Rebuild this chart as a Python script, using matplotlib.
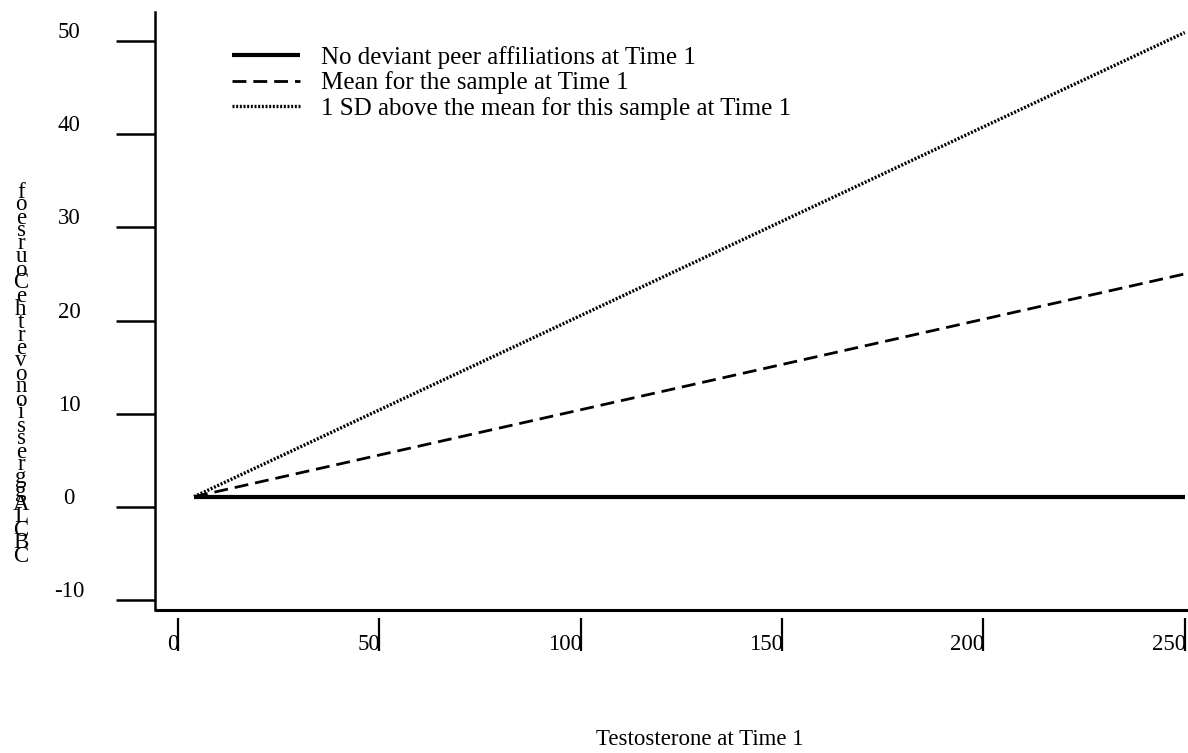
"""Testosterone x deviant peer affiliation interaction on CBCL aggression."""

import matplotlib
matplotlib.use('Agg')
import matplotlib.pyplot as plt
import matplotlib.transforms as mtransforms

# values
TESTOSTERONE = [4, 250]
NO_DEVIANT_PEERS = [1.1, 1.1]
MEAN_DEVIANT_PEERS = [1.1, 25.0]
SD_ABOVE_MEAN = [1.1, 50.9]

SERIES_LABELS = [
    'No deviant peer affiliations at Time 1',
    'Mean for the sample at Time 1',
    '1 SD above the mean for this sample at Time 1',
]
X_TICKS = [0, 50, 100, 150, 200, 250]
Y_TICKS = [-10, 0, 10, 20, 30, 40, 50]
X_LABEL = 'Testosterone at Time 1'
Y_LABEL = 'CBCL Aggression over the Course of'

W, H, DPI = 1188, 753, 100


def px(x, y):
    """Figure pixel coords (from top-left) -> figure fraction."""
    return x / W, 1 - y / H


def main():
    plt.rcParams['font.family'] = ['Liberation Serif', 'DejaVu Serif']
    fig = plt.figure(figsize=(W / DPI, H / DPI), dpi=DPI)

    left, bottom = px(155, 609.5)
    _, top = px(0, 12)
    ax = fig.add_axes([left, bottom, 1.0 - left, top - bottom])

    ax.plot(TESTOSTERONE, NO_DEVIANT_PEERS, color='black', lw=3.0,
            solid_capstyle='butt', label=SERIES_LABELS[0])
    ax.plot(TESTOSTERONE, MEAN_DEVIANT_PEERS, color='black', lw=2.0,
            ls=(0, (5, 2.5)), label=SERIES_LABELS[1])
    ax.plot(TESTOSTERONE, SD_ABOVE_MEAN, color='black', lw=2.4,
            ls=(0, (0.6, 0.5)), label=SERIES_LABELS[2])

    ax.set_xlim(-5.7, 250.8)
    ax.set_ylim(-11, 53.1)

    for side in ('top', 'right'):
        ax.spines[side].set_visible(False)
    ax.spines['left'].set_linewidth(1.8)
    # x ticks hang below the axis line with a gap, so move the (hidden) spine down
    ax.spines['bottom'].set_position(('outward', 6))
    ax.spines['bottom'].set_visible(False)
    ax.plot([0, 1], [0, 0], transform=ax.transAxes, color='black', lw=2.2,
            clip_on=False, solid_capstyle='butt')

    ax.set_xticks(X_TICKS)
    ax.set_yticks(Y_TICKS)
    ax.set_yticklabels([f'{v:g}' for v in Y_TICKS])
    ax.tick_params(axis='y', direction='out', length=28, width=1.8, pad=34,
                   labelsize=16.5)
    ax.tick_params(axis='x', direction='out', length=24, width=1.6, pad=-12,
                   labelsize=16.5)

    shift_up = mtransforms.ScaledTranslation(0, 11 / DPI, fig.dpi_scale_trans)
    for lab in ax.get_yticklabels():
        lab.set_horizontalalignment('center')
        lab.set_transform(lab.get_transform() + shift_up)
    shift_x = mtransforms.ScaledTranslation(1 / DPI, 0, fig.dpi_scale_trans)
    for lab in ax.get_xticklabels():
        lab.set_horizontalalignment('right')
        lab.set_transform(lab.get_transform() + shift_x)

    ax.legend(loc='upper left', bbox_to_anchor=px(232, 46), bbox_transform=fig.transFigure,
              frameon=False, fontsize=18, handlelength=2.7, handletextpad=0.87,
              labelspacing=0.1, borderpad=0, borderaxespad=0)

    fig.text(*px(700, 745), X_LABEL, ha='center', va='baseline', fontsize=16.5)

    # y label is written as a stack of upright letters, read bottom to top
    chars = Y_LABEL.replace(' ', '')
    y_bot, y_top = 556, 192
    step = (y_bot - y_top) / (len(chars) - 1)
    for i, ch in enumerate(chars):
        fig.text(*px(21, y_bot - i * step), ch, ha='center', va='center', fontsize=16.5)

    fig.savefig('out.png', dpi=DPI)
    plt.close(fig)


if __name__ == '__main__':
    main()
